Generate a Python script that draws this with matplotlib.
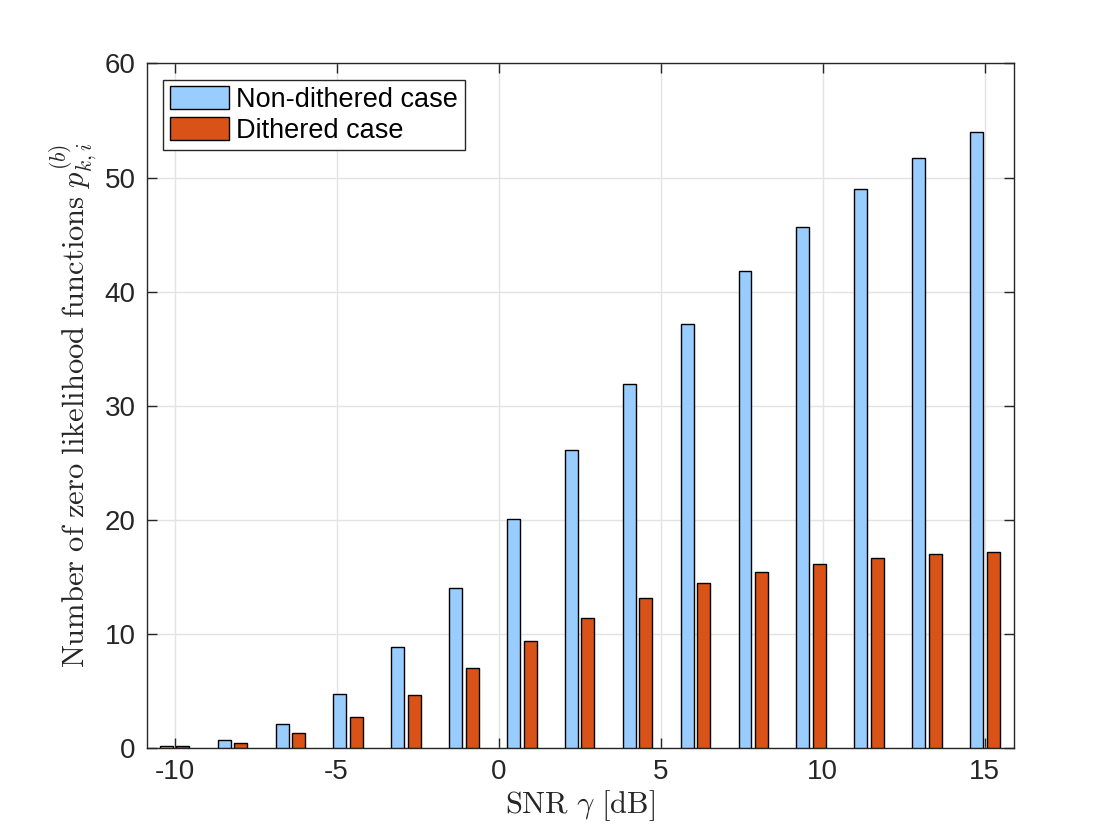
import matplotlib
matplotlib.use("Agg")
import matplotlib.pyplot as plt
import numpy as np

# SNR points (dB), 15 evenly spaced groups from -10 to 15
snr_db = np.linspace(-10, 15, 15)
non_dithered = [0.17, 0.67, 2.07, 4.7, 8.82, 14.03, 20.06, 26.1, 31.9, 37.2,
                41.8, 45.7, 49.0, 51.7, 54.0]
dithered = [0.15, 0.41, 1.29, 2.69, 4.62, 6.98, 9.35, 11.4, 13.16, 14.44,
            15.43, 16.13, 16.66, 17.0, 17.2]
series_labels = ["Non-dithered case", "Dithered case"]

plt.rcParams["font.family"] = ["Liberation Sans", "DejaVu Sans"]
plt.rcParams["mathtext.fontset"] = "cm"
plt.rcParams["axes.unicode_minus"] = False

fig = plt.figure(figsize=(11.2, 8.4), dpi=100)
ax = fig.add_axes([0.131, 0.1095, 0.774, 0.815])

w = 0.4
off = 0.255
ax.bar(snr_db - off, non_dithered, width=w, color="#99CCFF", edgecolor="black",
       linewidth=1.0, label=series_labels[0], zorder=3)
ax.bar(snr_db + off, dithered, width=w, color="#D95319", edgecolor="black",
       linewidth=1.0, label=series_labels[1], zorder=3)

ax.set_xlim(-10.86, 15.89)
ax.set_ylim(0, 60)
ax.set_xticks([-10, -5, 0, 5, 10, 15])
ax.set_yticks(np.arange(0, 61, 10))

dark = "#262626"
for s in ax.spines.values():
    s.set_color(dark)
    s.set_linewidth(1.0)
ax.tick_params(direction="in", top=True, right=True, length=7, width=1.0,
               colors=dark, labelsize=20, pad=8)
ax.grid(True, color="#e3e3e3", linewidth=1.0, zorder=0)
ax.set_axisbelow(True)

ax.set_xlabel(r"$\mathrm{SNR}\ \gamma\ \mathrm{[dB]}$", fontsize=22, color=dark,
              labelpad=2)
ax.set_ylabel(r"$\mathrm{Number\ of\ zero\ likelihood\ functions}\ p_{k,i}^{(b)}$",
              fontsize=22, color=dark, labelpad=4)

leg = ax.legend(loc="upper left", fontsize=19.5, frameon=True, fancybox=False,
                edgecolor=dark, framealpha=1.0, handlelength=2.2, handleheight=0.9,
                borderpad=0.25, labelspacing=0.15, handletextpad=0.25,
                borderaxespad=0.6)
leg.get_frame().set_linewidth(1.0)

fig.savefig("out.png", dpi=100)
plt.close(fig)
